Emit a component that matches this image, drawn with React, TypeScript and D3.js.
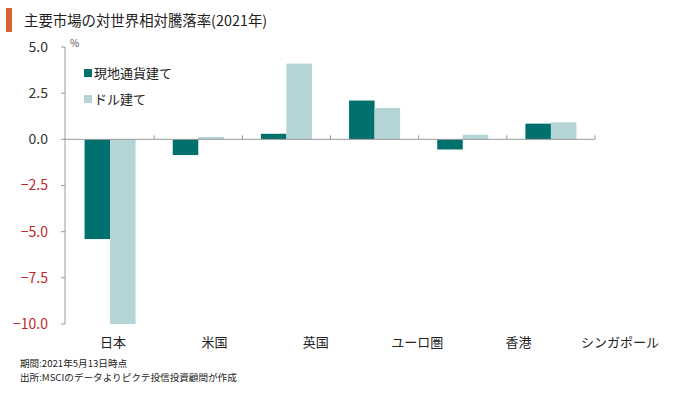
import React from "react";
import * as d3 from "d3";

const categories = ["日本", "米国", "英国", "ユーロ圏", "香港", "シンガポール"];
const seriesNames = ["現地通貨建て", "ドル建て"];
const localValues = [-5.4, -0.85, 0.3, 2.1, -0.55, 0.85];
const dollarValues = [-10.0, 0.13, 4.1, 1.7, 0.25, 0.92];
const yTicks = [5.0, 2.5, 0.0, -2.5, -5.0, -7.5, -10.0];
const colors = ["#00706E", "#B4D4D6"];

const W = 680, H = 396;
const left = 65, right = 595, top = 47, bottom = 324;
const FONT = "'Noto Sans CJK JP', 'Noto Sans', sans-serif";

export default function App() {
  const x = d3.scaleBand<string>().domain(categories).range([66, right]).paddingInner(0).paddingOuter(0);
  const xLabel = d3.scalePoint<string>().domain(categories).range([113, 620]);
  const y = d3.scaleLinear().domain([-10, 5]).range([bottom, top]);
  const barW = 25.5;
  const series = [localValues, dollarValues];
  return (
    <svg width={W} height={H} style={{ position: "absolute", left: 0, top: 0, background: "#fff" }} fontFamily={FONT}>
      <rect x={6} y={8} width={6} height={24} fill="#D9622B" />
      <text x={24} y={26} fontSize={14.4} fill="#222">主要市場の対世界相対騰落率(2021年)</text>
      {/* y axis */}
      <line x1={left} x2={left} y1={y(5)} y2={y(-10)} stroke="#999" strokeWidth={1} />
      {yTicks.map((t) => (
        <g key={t}>
          <line x1={left - 4} x2={left} y1={y(t)} y2={y(t)} stroke="#999" />
          <text x={left - 17} y={y(t)} dy="0.35em" textAnchor="end" fontSize={14} fill={t < 0 ? "#C0262B" : "#333"}>
            {d3.format(".1f")(t).replace("-", "−")}
          </text>
        </g>
      ))}
      <text x={70} y={47} fontSize={10} fill="#555">%</text>
      {/* bars */}
      {categories.map((c, i) => {
        const cx = (x(c) as number) + x.bandwidth() / 2;
        return series.map((vals, s) => {
          const v = vals[i];
          const bx = cx - barW + s * barW;
          return (
            <rect key={c + s} x={bx} y={y(Math.max(0, v))} width={barW} height={Math.abs(y(v) - y(0))} fill={colors[s]} />
          );
        });
      })}
      {/* zero line */}
      <line x1={left} x2={right} y1={y(0)} y2={y(0)} stroke="#999" />
      {categories.map((c) => (
        <line key={c} x1={(x(c) as number) + x.bandwidth()} x2={(x(c) as number) + x.bandwidth()} y1={y(0)} y2={y(0) - 4} stroke="#999" />
      ))}
      {/* category labels */}
      {categories.map((c) => (
        <text key={c} x={xLabel(c) as number} y={347} textAnchor="middle" fontSize={13} fill="#222">{c}</text>
      ))}
      {/* legend */}
      {seriesNames.map((n, i) => (
        <g key={n}>
          <rect x={84} y={69 + i * 26} width={8} height={8} fill={colors[i]} />
          <text x={94} y={73 + i * 26} dy="0.35em" fontSize={13} fill="#222">{n}</text>
        </g>
      ))}
      <text x={20} y={367} fontSize={9.6} fill="#222">期間:2021年5月13日時点</text>
      <text x={20} y={381} fontSize={9.6} fill="#222">出所:MSCIのデータよりピクテ投信投資顧問が作成</text>
    </svg>
  );
}
